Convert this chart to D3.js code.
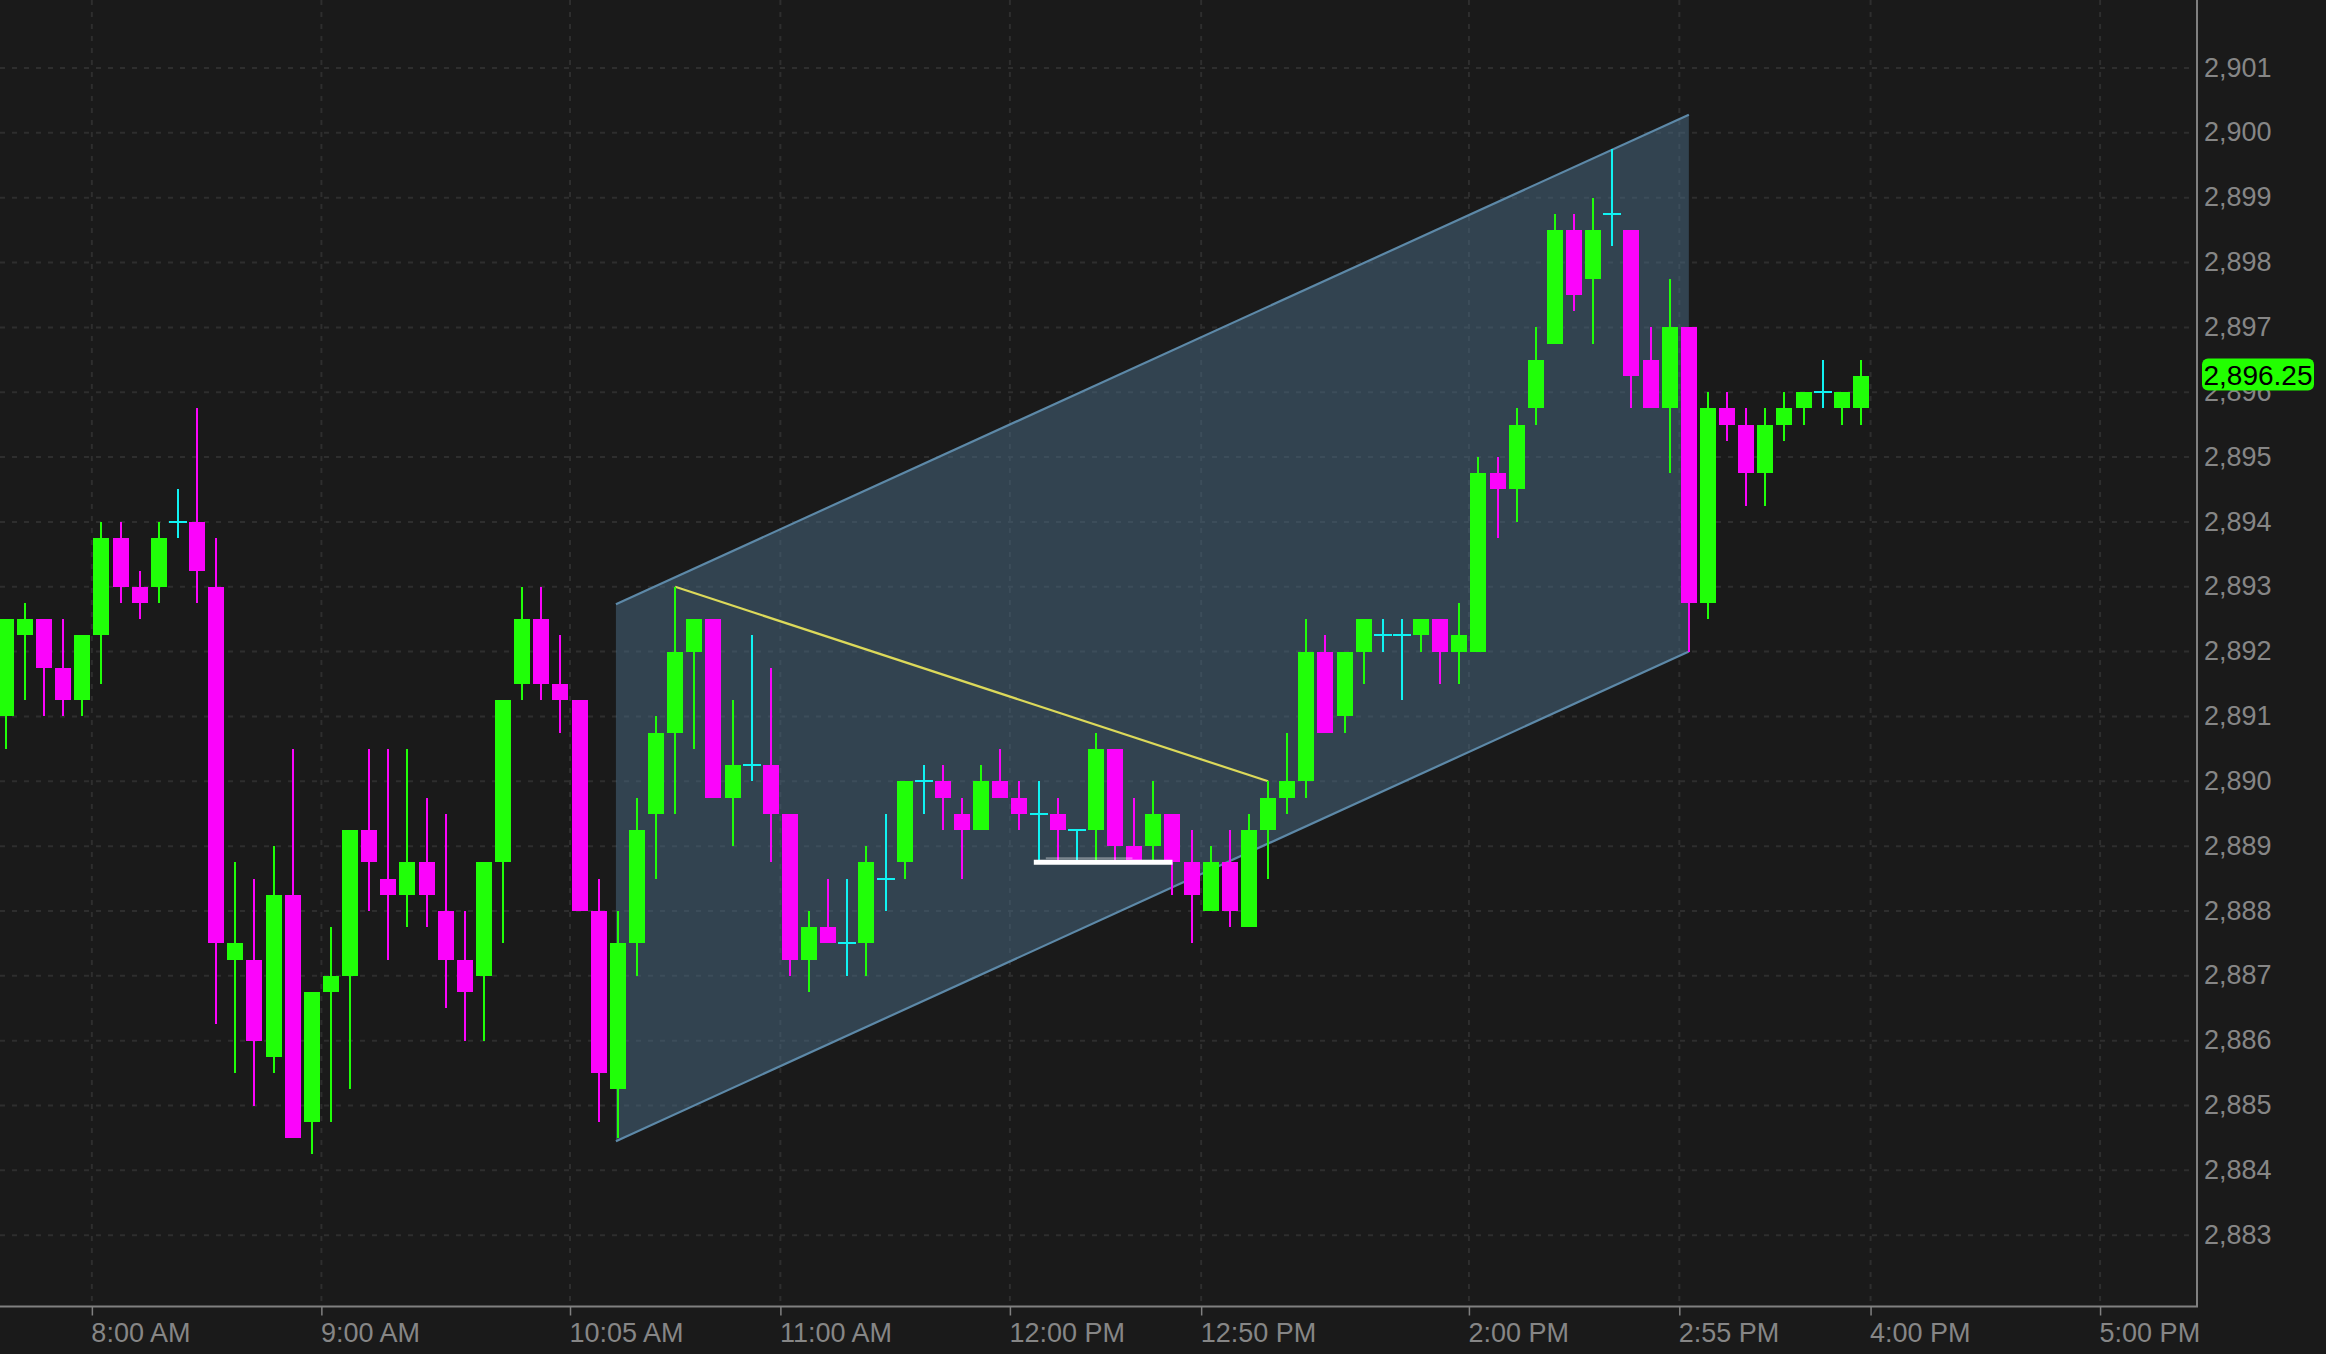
<!DOCTYPE html>
<html><head><meta charset="utf-8">
<script src="https://cdn.jsdelivr.net/npm/d3@7"></script>
<style>html,body{margin:0;padding:0;background:#1a1a1a;overflow:hidden}</style>
</head><body><svg id="c" width="2326" height="1354"></svg>
<script>
// ---- data (5-minute bars, ES futures) ----
const open=[2891,2892.25,2892.5,2891.75,2891.25,2892.25,2893.75,2893,2893,2894,
2894,2893,2887.25,2887.25,2885.75,2888.25,2884.75,2886.75,2887,2889.25,
2888.5,2888.25,2888.75,2888,2887.25,2887,2888.75,2891.5,2892.5,2891.5,
2891.25,2888,2885.25,2887.5,2889.5,2890.75,2892,2892.5,2889.75,2890.25,
2890.25,2889.5,2887.25,2887.75,2887.5,2887.5,2888.5,2888.75,2890,2890,
2889.5,2889.25,2890,2889.75,2889.5,2889.5,2889.25,2889.25,2890.5,2889,
2889,2889.5,2888.75,2888,2888.75,2887.75,2889.25,2889.75,2890,2892,
2891,2892,2892.25,2892.25,2892.25,2892.5,2892,2892,2894.75,2894.5,
2895.75,2896.75,2898.5,2897.75,2898.75,2898.5,2896.5,2895.75,2897,2892.75,
2895.75,2895.5,2894.75,2895.5,2895.75,2896,2895.75,2895.75];
const high=[2892.5,2892.75,2892.5,2892.5,2892.25,2894,2894,2893.25,2894,2894.5,
2895.75,2893.75,2888.75,2888.5,2889,2890.5,2886.75,2887.75,2889.25,2890.5,
2890.5,2890.5,2889.75,2889.5,2888,2888.75,2891.25,2893,2893,2892.25,
2891.25,2888.5,2888,2889.75,2891,2893,2892.5,2892.5,2891.25,2892.25,
2891.75,2889.5,2888,2888.5,2888.5,2889,2889.5,2890,2890.25,2890.25,
2889.75,2890.25,2890.5,2890,2890,2889.75,2889.25,2890.75,2890.5,2889.75,
2890,2889.5,2889.25,2889,2889.25,2889.5,2890,2890.75,2892.5,2892.25,
2892,2892.5,2892.5,2892.5,2892.5,2892.5,2892.75,2895,2895,2895.75,
2897,2898.75,2898.75,2899,2899.75,2898.5,2897,2897.75,2897,2896,
2896,2895.75,2895.75,2896,2896,2896.5,2896,2896.5];
const low=[2890.5,2891.25,2891,2891,2891,2891.5,2892.75,2892.5,2892.75,2893.75,
2892.75,2886.25,2885.5,2885,2885.5,2884.5,2884.25,2884.75,2885.25,2888,
2887.25,2887.75,2887.75,2886.5,2886,2886,2887.5,2891.25,2891.25,2890.75,
2888,2884.75,2884.5,2887,2888.5,2889.5,2890.5,2889.75,2889,2890,
2888.75,2887,2886.75,2887.5,2887,2887,2888,2888.5,2889.5,2889.25,
2888.5,2889.25,2889.75,2889.25,2888.75,2888.75,2888.75,2888.75,2888.75,2888.75,
2888.75,2888.25,2887.5,2888,2887.75,2887.75,2888.5,2889.5,2889.75,2890.75,
2890.75,2891.5,2892,2891.25,2892,2891.5,2891.5,2892,2893.75,2894,
2895.5,2896.75,2897.25,2896.75,2898.25,2895.75,2895.75,2894.75,2892,2892.5,
2895.25,2894.25,2894.25,2895.25,2895.5,2895.75,2895.5,2895.5];
const close=[2892.5,2892.5,2891.75,2891.25,2892.25,2893.75,2893,2892.75,2893.75,2894,
2893.25,2887.5,2887.5,2886,2888.25,2884.5,2886.75,2887,2889.25,2888.75,
2888.25,2888.75,2888.25,2887.25,2886.75,2888.75,2891.25,2892.5,2891.5,2891.25,
2888,2885.5,2887.5,2889.25,2890.75,2892,2892.5,2889.75,2890.25,2890.25,
2889.5,2887.25,2887.75,2887.5,2887.5,2888.75,2888.5,2890,2890,2889.75,
2889.25,2890,2889.75,2889.5,2889.5,2889.25,2889.25,2890.5,2889,2888.75,
2889.5,2888.75,2888.25,2888.75,2888,2889.25,2889.75,2890,2892,2890.75,
2892,2892.5,2892.25,2892.25,2892.5,2892,2892.25,2894.75,2894.5,2895.5,
2896.5,2898.5,2897.5,2898.5,2898.75,2896.25,2895.75,2897,2892.75,2895.75,
2895.5,2894.75,2895.5,2895.75,2896,2896,2896,2896.25];

// time-axis: bar index at which each labelled time starts
const xTickBars=[5,17,30,41,53,63,77,88,98,110];
const xTickLabels=["8:00 AM","9:00 AM","10:05 AM","11:00 AM","12:00 PM","12:50 PM","2:00 PM","2:55 PM","4:00 PM","5:00 PM"];
const yTicks=[2883,2884,2885,2886,2887,2888,2889,2890,2891,2892,2893,2894,2895,2896,2897,2898,2899,2900,2901];

// drawings: [barIndex, price]
const channelLow=[[31.9,2884.45],[88,2892.0]];
const channelWidth=8.28;
const trendLine=[[35,2893],[66,2890]];
const supportLine=[[53.75,2888.75],[61,2888.75]];
const lastPrice=close[close.length-1];

// ---- layout ----
const plotRight=2197, plotBottom=1306.5;
const svg=d3.select("#c");
const x=d3.scaleLinear().domain([0,97]).range([5.8,1861.0]);
const y=d3.scaleLinear().domain([2883,2901]).range([1235.2,68.0]);
const GREEN="#20ff08", MAG="#fb04fb", CYAN="#10f2f2";
const FONT="'Liberation Sans',Arial,Helvetica,sans-serif";

svg.append("rect").attr("width",2326).attr("height",1354).attr("fill","#1a1a1a");

// grid
const grid=svg.append("g").attr("stroke","#2e2e2e").attr("stroke-width",2).attr("stroke-dasharray","5,7");
grid.selectAll(".hg").data(yTicks).enter().append("line")
  .attr("x1",0).attr("x2",plotRight).attr("y1",d=>y(d)).attr("y2",d=>y(d));
grid.selectAll(".vg").data(xTickBars).enter().append("line")
  .attr("x1",d=>x(d-0.5)).attr("x2",d=>x(d-0.5)).attr("y1",0).attr("y2",plotBottom);

// channel
const [p0,p1]=channelLow;
const poly=[[x(p0[0]),y(p0[1])],[x(p1[0]),y(p1[1])],[x(p1[0]),y(p1[1]+channelWidth)],[x(p0[0]),y(p0[1]+channelWidth)]];
svg.append("path").attr("d","M"+poly.map(p=>p.join(",")).join("L")+"Z")
  .attr("fill","#4a6b85").attr("fill-opacity",0.5);
svg.append("line").attr("x1",poly[0][0]).attr("y1",poly[0][1]).attr("x2",poly[1][0]).attr("y2",poly[1][1])
  .attr("stroke","#5d89a8").attr("stroke-width",2.2);
svg.append("line").attr("x1",poly[3][0]).attr("y1",poly[3][1]).attr("x2",poly[2][0]).attr("y2",poly[2][1])
  .attr("stroke","#5d89a8").attr("stroke-width",2.2);

// trend line
svg.append("line").attr("x1",x(trendLine[0][0])).attr("y1",y(trendLine[0][1]))
  .attr("x2",x(trendLine[1][0])).attr("y2",y(trendLine[1][1]))
  .attr("stroke","#dcd95a").attr("stroke-width",2.2);

// candles
const bars=d3.range(open.length).map(i=>({i,o:open[i],h:high[i],l:low[i],c:close[i]}));
const col=d=>d.c>d.o?GREEN:(d.c<d.o?MAG:CYAN);
const cg=svg.append("g").attr("shape-rendering","crispEdges");
cg.selectAll(".w").data(bars).enter().append("rect")
  .attr("x",d=>Math.round(x(d.i))-1).attr("width",2)
  .attr("y",d=>y(d.h)).attr("height",d=>Math.max(1,y(d.l)-y(d.h))).attr("fill",col);
cg.selectAll(".b").data(bars.filter(d=>d.c!==d.o)).enter().append("rect")
  .attr("x",d=>Math.round(x(d.i))-8).attr("width",16)
  .attr("y",d=>y(Math.max(d.o,d.c))).attr("height",d=>Math.abs(y(d.o)-y(d.c))).attr("fill",col);
cg.selectAll(".dj").data(bars.filter(d=>d.c===d.o)).enter().append("rect")
  .attr("x",d=>Math.round(x(d.i))-9).attr("width",18)
  .attr("y",d=>y(d.o)-1).attr("height",2).attr("fill",CYAN);

// support line (white)
svg.append("line").attr("x1",x(supportLine[0][0])+12).attr("x2",x(supportLine[1][0])-40)
  .attr("y1",y(supportLine[0][1])-4).attr("y2",y(supportLine[1][1])-4)
  .attr("stroke","#ffffff").attr("stroke-opacity",0.35).attr("stroke-width",2);
svg.append("line").attr("x1",x(supportLine[0][0])).attr("x2",x(supportLine[1][0]))
  .attr("y1",y(supportLine[0][1])).attr("y2",y(supportLine[1][1]))
  .attr("stroke","#ffffff").attr("stroke-width",5);

// axes
const axisCol="#808080", txtCol="#868686";
const xa=svg.append("g").attr("transform",`translate(0,${plotBottom})`)
  .call(d3.axisBottom(x).tickValues(xTickBars.map(d=>d-0.5)).tickFormat((d,i)=>xTickLabels[i]).tickSize(9).tickPadding(7));
xa.select(".domain").remove();
xa.selectAll(".tick line").attr("stroke",axisCol).attr("stroke-width",1.5);
xa.selectAll(".tick text").attr("text-anchor","start").attr("x",-1).attr("fill",txtCol)
  .style("font-family",FONT).style("font-size","27px");

const ya=svg.append("g").attr("transform",`translate(${plotRight},0)`)
  .call(d3.axisRight(y).tickValues(yTicks).tickFormat(d3.format(",")).tickSize(0).tickPadding(7));
ya.select(".domain").remove();
ya.selectAll(".tick text").attr("fill",txtCol).attr("dy","0.3em")
  .style("font-family",FONT).style("font-size","27px");

svg.append("line").attr("x1",0).attr("x2",plotRight+1).attr("y1",plotBottom).attr("y2",plotBottom)
  .attr("stroke",axisCol).attr("stroke-width",2);
svg.append("line").attr("x1",plotRight).attr("x2",plotRight).attr("y1",0).attr("y2",plotBottom)
  .attr("stroke",axisCol).attr("stroke-width",2);

// last price badge (covers the 2,896 tick label, as in the source)
const ly=y(lastPrice)-1.5;
svg.append("rect").attr("x",2202).attr("y",ly-16).attr("width",112).attr("height",32).attr("rx",6)
  .attr("fill","#22ff00");
svg.append("text").attr("x",2258).attr("y",ly).attr("dy","0.36em").attr("text-anchor","middle")
  .attr("fill","#000").style("font-family",FONT).style("font-size","28px")
  .text(d3.format(",.2f")(lastPrice));
</script></body></html>
